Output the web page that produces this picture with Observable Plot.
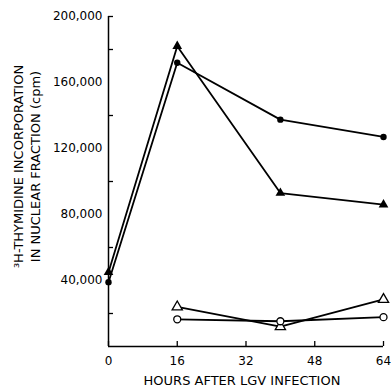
<!DOCTYPE html>
<html>
<head>
<meta charset="utf-8">
<script src="https://cdn.jsdelivr.net/npm/d3@7"></script>
<script src="https://cdn.jsdelivr.net/npm/@observablehq/plot@0.6"></script>
<style>
  html, body { margin: 0; padding: 0; background: #fff; }
  svg { display: block; }
</style>
</head>
<body>
<div id="chart"></div>
<script>
const hours = [0, 16, 40, 64];
const filledCircle = [39000, 172000, 137500, 127000];
const filledTriangle = [45000, 182000, 93000, 86000];
const openTriangle = [null, 24000, 12000, 28500];
const openCircle = [null, 16500, 15300, 17800];
const xTicks = [0, 16, 32, 48, 64];
const yLabelTicks = [40000, 80000, 120000, 160000, 200000];
const yMinorTicks = [20000, 60000, 100000, 140000, 180000, 200000];
const xTitle = "HOURS AFTER LGV INFECTION";
const yTitle = "³H-THYMIDINE INCORPORATION\nIN NUCLEAR FRACTION (cpm)";

const mk = (vals, series) => hours.map((h, i) => ({h, v: vals[i], series})).filter(d => d.v != null);
const sFC = mk(filledCircle, "fc");
const sFT = mk(filledTriangle, "ft");
const sOT = mk(openTriangle, "ot");
const sOC = mk(openCircle, "oc");

const W = 391, H = 387;
const ml = 108, mr = 8, mt = 16, mb = 41;
const fw = W - ml - mr, fh = H - mt - mb;
const font = "DejaVu Sans";

const lineOpts = {x: "h", y: "v", stroke: "black", strokeWidth: 1.8};

const chart = Plot.plot({
  width: W, height: H,
  marginLeft: ml, marginRight: mr, marginTop: mt, marginBottom: mb,
  style: {fontFamily: font, fontSize: "11px", color: "black", background: "white"},
  x: {domain: [0, 64]},
  y: {domain: [0, 200000]},
  marks: [
    Plot.ruleX([0], {strokeWidth: 1.5}),
    Plot.ruleY([0], {strokeWidth: 1.5}),
    Plot.tickX(xTicks, {x: d => d, insetTop: fh - 5, strokeWidth: 1.3}),
    Plot.tickY(yMinorTicks, {y: d => d, insetRight: fw - 5, strokeWidth: 1.3}),
    Plot.axisX(xTicks, {tickSize: 0, tickPadding: 10, label: null, fontSize: 12, tickFormat: d => d}),
    Plot.axisY(yLabelTicks, {tickSize: 0, tickPadding: 6, label: null, fontSize: 12, tickFormat: d3.format(",")}),
    Plot.text([xTitle], {frameAnchor: "bottom", dy: 38, dx: -4, fontSize: 13, text: d => d, style: "letter-spacing:1.2px"}),
    Plot.text([yTitle], {frameAnchor: "left", dx: -82, dy: -15, rotate: -90, fontSize: 13, lineHeight: 1.3, text: d => d, textAnchor: "middle"}),
    Plot.line(sFC, lineOpts),
    Plot.line(sFT, lineOpts),
    Plot.line(sOT, lineOpts),
    Plot.line(sOC, lineOpts),
    Plot.dot(sFC, {x: "h", y: "v", r: 3.2, fill: "black", stroke: "none"}),
    Plot.dot(sFT, {x: "h", y: "v", r: 3.6, symbol: "triangle", fill: "black", stroke: "none"}),
    Plot.dot(sOT, {x: "h", y: "v", r: 3.8, symbol: "triangle", fill: "white", stroke: "black", strokeWidth: 1.3}),
    Plot.dot(sOC, {x: "h", y: "v", r: 3.5, fill: "white", stroke: "black", strokeWidth: 1.3})
  ]
});
document.getElementById("chart").appendChild(chart);
</script>
</body>
</html>
